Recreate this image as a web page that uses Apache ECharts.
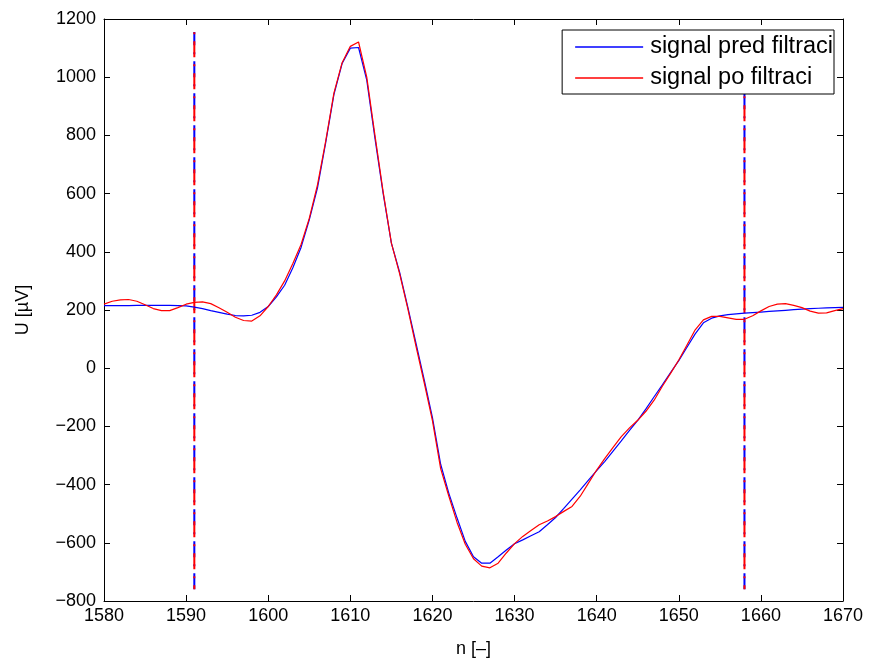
<!DOCTYPE html>
<html>
<head>
<meta charset="utf-8">
<script src="https://cdn.jsdelivr.net/npm/echarts@6/dist/echarts.min.js"></script>
<style>html,body{margin:0;padding:0;background:#fff}#c{width:876px;height:666px}</style>
</head>
<body>
<div id="c"></div>
<script>
const nStart = 1580;
const blueValues = [215,215,215,215,216,216,216,216,216,215,214,210,205,198,192,186,181,180,182,192,212,245,285,345,415,510,620,775,940,1047,1100,1102,990,790,600,430,330,210,85,-40,-170,-330,-430,-515,-595,-648,-670,-670,-648,-625,-603,-590,-576,-562,-538,-513,-482,-450,-418,-385,-352,-320,-285,-250,-214,-179,-140,-98,-57,-15,26,72,118,156,172,180,184,187,189,191,193,195,197,199,201,203,205,206,207,208,209];
const redValues = [220,230,235,236,230,218,205,198,198,208,220,226,228,222,208,192,175,164,162,180,212,252,300,360,425,515,630,780,945,1050,1106,1121,1000,800,605,430,325,205,75,-50,-180,-345,-440,-530,-605,-655,-680,-686,-670,-635,-603,-578,-558,-538,-525,-510,-492,-475,-440,-395,-350,-310,-272,-235,-205,-179,-148,-110,-62,-18,28,80,132,166,178,178,173,168,168,180,197,212,220,222,216,208,196,189,190,198,205];
const markerLeft = [[1591,-760],[1591,1155]];
const markerRight = [[1658,-760],[1658,1155]];
const xTicks = {min:1580, max:1670, step:10};
const yTicks = {min:-800, max:1200, step:200};
const seriesNames = ['signal pred filtraci','signal po filtraci'];

const toPairs = vals => vals.map((v,i)=>[nStart+i, v]);
const font = 'Liberation Sans, Arial, Helvetica, sans-serif';
const fmtY = v => (v<0 ? '\u2212' + Math.abs(v) : String(v));

const chart = echarts.init(document.getElementById('c'), null, {renderer:'canvas'});
const axisCommon = {
  axisLine:{show:true, onZero:false, lineStyle:{color:'#000', width:1}},
  axisTick:{show:true, inside:true, length:6, lineStyle:{color:'#000'}},
  splitLine:{show:false}
};
const vline = (data, color, dash, offset, z) => ({
  type:'line', data, showSymbol:false, symbol:'none', silent:true, z,
  lineStyle:{color, width:2, type:dash, dashOffset:offset}, legendHoverLink:false
});
const dashPattern = [16,7,2,7];
chart.setOption({
  animation:false,
  backgroundColor:'#fff',
  grid:{left:104, right:33, top:19, bottom:65, containLabel:false},
  legend:{
    data:seriesNames.map(n=>({name:n, icon:'path://M0,0 L1,0 L1,0.02 L0,0.02 Z'})),
    orient:'vertical', right:42, top:30, itemWidth:68, itemHeight:2, itemGap:7,
    padding:[5,1,4,13],
    borderColor:'#000', borderWidth:1, backgroundColor:'#fff',
    textStyle:{fontFamily:font, fontSize:23.5, color:'#000', padding:[0,0,0,2]}
  },
  xAxis:[
    Object.assign({type:'value', min:xTicks.min, max:xTicks.max, interval:xTicks.step,
      name:'n [\u2013]', nameLocation:'middle', nameGap:39,
      nameTextStyle:{fontFamily:font, fontSize:18, color:'#000'},
      axisLabel:{fontFamily:font, fontSize:18, color:'#000', margin:6, formatter:v=>String(v)}}, axisCommon),
    Object.assign({type:'value', position:'top', min:xTicks.min, max:xTicks.max, interval:xTicks.step,
      axisLabel:{show:false}}, axisCommon)
  ],
  yAxis:[
    Object.assign({type:'value', min:yTicks.min, max:yTicks.max, interval:yTicks.step,
      name:'U [\u00b5V]', nameLocation:'middle', nameGap:72, nameRotate:90,
      nameTextStyle:{fontFamily:font, fontSize:18, color:'#000'},
      axisLabel:{fontFamily:font, fontSize:18, color:'#000', margin:8, formatter:fmtY}}, axisCommon),
    Object.assign({type:'value', position:'right', min:yTicks.min, max:yTicks.max, interval:yTicks.step,
      axisLabel:{show:false}}, axisCommon)
  ],
  series:[
    vline(markerLeft, '#0000ff', dashPattern, 0, 1),
    vline(markerLeft, '#ff0000', dashPattern, 12, 2),
    vline(markerRight, '#0000ff', dashPattern, 0, 1),
    vline(markerRight, '#ff0000', dashPattern, 12, 2),
    {name:seriesNames[0], type:'line', data:toPairs(blueValues), showSymbol:false, symbol:'none', z:3,
      itemStyle:{color:'#0000ff'}, lineStyle:{color:'#0000ff', width:1.2}},
    {name:seriesNames[1], type:'line', data:toPairs(redValues), showSymbol:false, symbol:'none', z:4,
      itemStyle:{color:'#ff0000'}, lineStyle:{color:'#ff0000', width:1.2}}
  ]
});
</script>
</body>
</html>
